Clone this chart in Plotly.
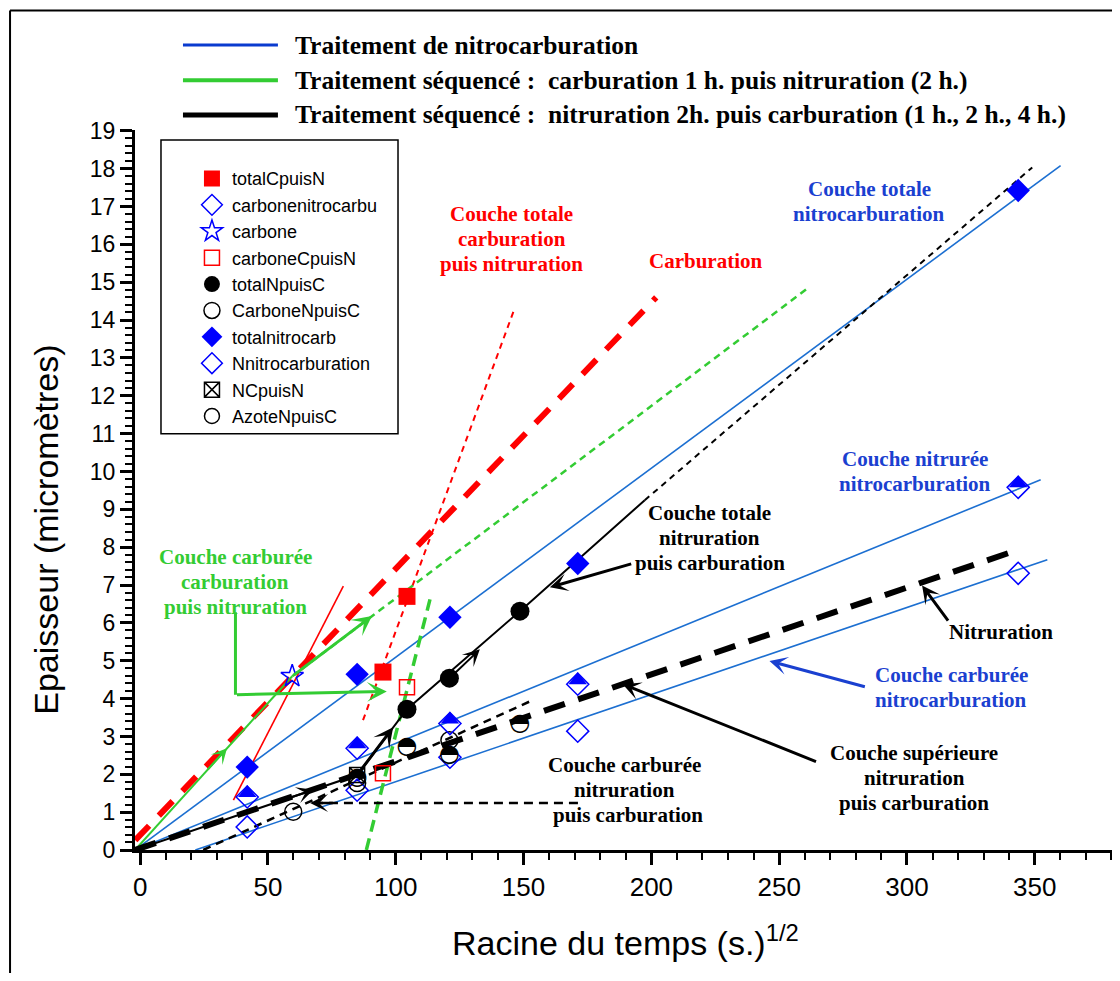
import plotly.graph_objects as go

# ---------------- data : x = racine du temps (s.)^1/2 , y = épaisseur (µm) ----------------
x_nitro = [41.9, 84.9, 121.2, 171.2, 343.5]

totalCpuisN_x = [95.0, 104.4]
totalCpuisN_y = [4.70, 6.70]
carbonenitrocarbu_x = x_nitro
carbonenitrocarbu_y = [0.61, 1.58, 2.45, 3.14, 7.31]
carbone_x = [59.5]
carbone_y = [4.59]
carboneCpuisN_x = [95.0, 104.4]
carboneCpuisN_y = [2.03, 4.30]
totalNpuisC_x = [104.4, 121.0, 148.6]
totalNpuisC_y = [3.72, 4.54, 6.31]
CarboneNpuisC_x = [59.9, 84.9, 121.0]
CarboneNpuisC_y = [1.01, 1.77, 2.90]
totalnitrocarb_x = x_nitro
totalnitrocarb_y = [2.19, 4.64, 6.15, 7.57, 17.42]
Nnitrocarburation_x = x_nitro
Nnitrocarburation_y = [1.40, 2.69, 3.34, 4.38, 9.58]
NCpuisN_x = [84.9]
NCpuisN_y = [1.98]
AzoteNpuisC_x = [84.9, 104.4, 121.0, 148.6]
AzoteNpuisC_y = [1.90, 2.73, 2.51, 3.34]

# guide / trend lines
nc_totale_x = [-2.0, 360.1]
nc_totale_y = [0.0, 18.08]
nc_nitruree_x = [-2.0, 352.3]
nc_nitruree_y = [0.0, 9.78]
nc_carburee_x = [21.6, 354.9]
nc_carburee_y = [0.0, 7.67]
carburation_x = [-1.9, 201.9]
carburation_y = [0.26, 14.6]
red_thin_x = [36.5, 79.5]
red_thin_y = [1.32, 6.97]
red_totale_x = [87.2, 146.2]
red_totale_y = [3.43, 14.25]
green_c_x = [-2.0, 59.5]
green_c_y = [0.0, 4.59]
green_n_x = [59.5, 261.0]
green_n_y = [4.59, 14.83]
green_steep_x = [88.5, 113.4]
green_steep_y = [0.0, 6.62]
black_path_x = [-2.0, 84.9, 104.4, 148.6, 197.4]
black_path_y = [0.0, 1.98, 3.72, 6.31, 9.24]
black_ext_x = [197.4, 349.0]
black_ext_y = [9.24, 18.03]
nitruration_x = [-2.0, 343.0]
nitruration_y = [0.0, 7.92]
carb_NpuisC_x = [24.7, 153.6]
carb_NpuisC_y = [0.0, 3.96]

BLUE_LINE = '#1c6fd1'
BLUE_MK = '#0000ff'
BLUE_TXT = '#1a40d0'
RED = '#ff0000'
GREEN = '#33cc33'

fig = go.Figure()


def line(x, y, color, width, dash='solid'):
    fig.add_trace(go.Scatter(x=x, y=y, mode='lines', showlegend=False, hoverinfo='skip',
                             line=dict(color=color, width=width, dash=dash)))


line(nc_totale_x, nc_totale_y, BLUE_LINE, 1.6)
line(nc_nitruree_x, nc_nitruree_y, BLUE_LINE, 1.6)
line(nc_carburee_x, nc_carburee_y, BLUE_LINE, 1.6)
line(carburation_x, carburation_y, RED, 6, '20px,14px')
line(red_thin_x, red_thin_y, RED, 1.6)
line(red_totale_x, red_totale_y, RED, 2, '6px,5px')
line(green_c_x, green_c_y, GREEN, 2)
line(green_n_x, green_n_y, GREEN, 2.5, '7px,5px')
line(green_steep_x, green_steep_y, GREEN, 3.5, '12px,7px')
line(nitruration_x, nitruration_y, 'black', 6, '22px,14px')
line(black_path_x, black_path_y, 'black', 2)
line(black_ext_x, black_ext_y, 'black', 2, '6px,5px')
line(carb_NpuisC_x, carb_NpuisC_y, 'black', 2.5, '8px,6px')

# ---------------- marker series ----------------
def mk(x, y, name, symbol, size, color, lw=1.5, show=True):
    fig.add_trace(go.Scatter(x=x, y=y, mode='markers', name=name, showlegend=show,
                             marker=dict(symbol=symbol, size=size, color=color,
                                         line=dict(color=color, width=lw))))


mk(totalCpuisN_x, totalCpuisN_y, 'totalCpuisN', 'square', 17, RED, 0)
mk(carbonenitrocarbu_x, carbonenitrocarbu_y, 'carbonenitrocarbu', 'diamond-open', 17, BLUE_MK)
mk(carbone_x, carbone_y, 'carbone', 'star-open', 17, BLUE_MK)
mk(carboneCpuisN_x, carboneCpuisN_y, 'carboneCpuisN', 'square-open', 15, RED)
mk(totalNpuisC_x, totalNpuisC_y, 'totalNpuisC', 'circle', 19, 'black', 0)
mk(CarboneNpuisC_x, CarboneNpuisC_y, 'CarboneNpuisC', 'circle-open', 17, 'black')
mk(totalnitrocarb_x, totalnitrocarb_y, 'totalnitrocarb', 'diamond', 18, BLUE_MK, 0)
mk(Nnitrocarburation_x, Nnitrocarburation_y, 'Nnitrocarburation', 'diamond-open', 17, BLUE_MK)
# filled upper half of the Nnitrocarburation diamonds
fig.add_trace(go.Scatter(x=Nnitrocarburation_x, y=Nnitrocarburation_y, mode='markers', showlegend=False,
                         hoverinfo='skip',
                         marker=dict(symbol='triangle-down', size=16, angle=180, standoff=4,
                                     color=BLUE_MK, line=dict(width=0))))
mk(NCpuisN_x, NCpuisN_y, 'NCpuisN', 'square-x-open', 15, 'black')
# AzoteNpuisC : legend entry + half-filled circle glyphs
fig.add_trace(go.Scatter(x=[None], y=[None], mode='markers', name='AzoteNpuisC',
                         marker=dict(symbol='circle-open', size=15, color='black',
                                     line=dict(color='black', width=1.5))))
fig.add_trace(go.Scatter(x=AzoteNpuisC_x, y=AzoteNpuisC_y, mode='text', showlegend=False,
                         text=['◓'] * len(AzoteNpuisC_x), textposition='middle center',
                         textfont=dict(family='DejaVu Sans', size=24, color='black'),
                         hoverinfo='skip'))

# ---------------- annotations ----------------
ann = []
TF = 'Liberation Serif'
LINE_STEP = 0.66  # spacing between text lines (y units)


def label(x, yc, lines, color, size=21, dx=None):
    n = len(lines)
    for i, t in enumerate(lines):
        xi = x + (dx[i] if dx else 0)
        ann.append(dict(x=xi, y=yc + ((n - 1) / 2 - i) * LINE_STEP, xref='x', yref='y',
                        text='<b>' + t + '</b>', showarrow=False, xanchor='center', yanchor='middle',
                        font=dict(family=TF, size=size, color=color)))


def arrow(hx, hy, tx, ty, color, width, size=1.0, head=3):
    ann.append(dict(x=hx, y=hy, ax=tx, ay=ty, xref='x', yref='y', axref='x', ayref='y', text='',
                    showarrow=True, arrowhead=head, arrowsize=size, arrowwidth=width,
                    arrowcolor=color))


label(145.4, 16.15, ['Couche totale', 'carburation', 'puis nitruration'], RED)
label(221.2, 15.57, ['Carburation'], RED)
label(285.3, 17.14, ['Couche totale', 'nitrocarburation'], BLUE_TXT)
label(303.2, 9.99, ['Couche nitrurée', 'nitrocarburation'], BLUE_TXT)
label(317.3, 4.29, ['Couche carburée', 'nitrocarburation'], BLUE_TXT)
label(336.8, 5.75, ['Nitruration'], 'black')
label(302.8, 1.91, ['Couche supérieure', 'nitruration', 'puis carburation'], 'black')
label(189.6, 1.58, ['Couche carburée', 'nitruration', 'puis carburation'], 'black', dx=[0, 0, 1.2])
label(222.8, 8.23, ['Couche totale', 'nitruration', 'puis carburation'], 'black')
label(37.3, 7.07, ['Couche carburée', 'carburation', 'puis nitruration'], GREEN)

# arrows along the paths
arrow(34.0, 2.69, 26.0, 2.09, GREEN, 2, 1.3)
arrow(90.7, 6.18, 59.5, 4.59, GREEN, 3, 1.1)
arrow(96.5, 4.19, 37.3, 4.10, GREEN, 3, 1.1)
arrow(67.8, 1.59, 55.0, 1.30, 'black', 2, 1.4)
arrow(99.0, 3.24, 86.0, 2.08, 'black', 3, 1.1)
arrow(132.9, 5.30, 122.0, 4.60, 'black', 2, 1.4)
arrow(160.3, 6.94, 192.7, 7.57, 'black', 3, 1.0)
arrow(305.9, 6.99, 316.5, 6.02, 'black', 3, 1.0)
arrow(188.8, 4.38, 265.0, 2.32, 'black', 3, 1.0)
arrow(246.2, 4.99, 284.1, 4.30, BLUE_TXT, 3, 1.0)
arrow(66.5, 1.24, 76.0, 1.24, 'black', 2.5, 1.2)

# axis titles
ann.append(dict(x=0.502, y=-0.126, xref='paper', yref='paper', showarrow=False,
                xanchor='center', yanchor='middle',
                text='Racine du temps (s.)<sup>1/2</sup>',
                font=dict(family='Liberation Sans', size=34, color='black')))
ann.append(dict(x=-0.092, y=0.445, xref='paper', yref='paper', showarrow=False, textangle=-90,
                xanchor='center', yanchor='middle',
                text='Epaisseur (micromètres)',
                font=dict(family='Liberation Sans', size=34, color='black')))

# top legend (treatments)
top_items = [('Traitement de nitrocarburation', '#0a3bcf', 3, 1.118),
             ('Traitement séquencé :  carburation 1 h. puis nitruration (2 h.)', GREEN, 4, 1.069),
             ('Traitement séquencé :  nitruration 2h. puis carburation (1 h., 2 h., 4 h.)', 'black', 5, 1.021)]
shapes = []
for txt, col, w, yp in top_items:
    shapes.append(dict(type='line', xref='paper', yref='paper', x0=0.0491, x1=0.1463, y0=yp, y1=yp,
                       line=dict(color=col, width=w)))
    ann.append(dict(x=0.1617, y=yp, xref='paper', yref='paper', xanchor='left', yanchor='middle',
                    showarrow=False, text='<b>' + txt + '</b>',
                    font=dict(family=TF, size=25.5, color='black')))

# green L connector (vertical part), dashed horizontal guide
shapes.append(dict(type='line', xref='x', yref='y', x0=37.3, x1=37.3, y0=6.28, y1=4.10,
                   line=dict(color=GREEN, width=3)))
shapes.append(dict(type='line', xref='x', yref='y', x0=68.0, x1=172.0, y0=1.24, y1=1.24,
                   line=dict(color='black', width=2.5, dash='9px,6px')))
# legend frame
shapes.append(dict(type='rect', xref='paper', yref='paper', x0=0.0266, x1=0.2692, y0=0.578, y1=0.986,
                   line=dict(color='black', width=1.5)))
# outer figure frame
shapes.append(dict(type='line', xref='paper', yref='paper', x0=-0.1279, x1=-0.1279, y0=1.166, y1=-0.2,
                   line=dict(color='black', width=2)))
shapes.append(dict(type='line', xref='paper', yref='paper', x0=-0.1279, x1=1.01, y0=1.166, y1=1.166,
                   line=dict(color='black', width=2)))

fig.update_layout(
    width=1104, height=965,
    margin=dict(l=127, r=0, t=122, b=123),
    paper_bgcolor='white', plot_bgcolor='white',
    annotations=ann, shapes=shapes,
    legend=dict(x=0.0583, y=0.958, xanchor='left', yanchor='top', bgcolor='rgba(0,0,0,0)',
                borderwidth=0, font=dict(family='Liberation Sans', size=18, color='black'),
                tracegroupgap=0),
    xaxis=dict(range=[-2, 380.2], showgrid=False, zeroline=False, showline=True, linewidth=3,
               linecolor='black', ticks='outside', ticklen=12, tickwidth=3, tickcolor='black',
               tick0=0, dtick=50,
               minor=dict(ticks='outside', ticklen=7, tickwidth=2, tickcolor='black', dtick=10, tick0=0),
               tickfont=dict(family='Liberation Sans', size=26, color='black')),
    yaxis=dict(range=[0, 19.02], showgrid=False, zeroline=False, showline=True, linewidth=3,
               linecolor='black', ticks='outside', ticklen=12, tickwidth=3, tickcolor='black',
               tick0=0, dtick=1,
               minor=dict(ticks='outside', ticklen=7, tickwidth=2, tickcolor='black', dtick=0.2),
               tickfont=dict(family='Liberation Sans', size=23, color='black')),
)

fig.write_html('out.html')
